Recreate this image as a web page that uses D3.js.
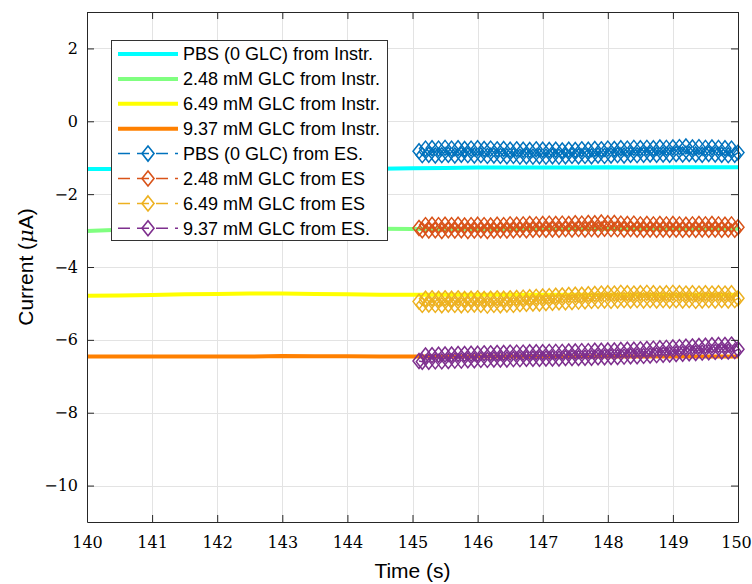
<!DOCTYPE html>
<html>
<head>
<meta charset="utf-8">
<script src="https://cdn.jsdelivr.net/npm/d3@7"></script>
<style>
  body { margin: 0; background: #fff; }
  svg { display: block; }
</style>
</head>
<body>
<svg id="chart" width="752" height="584"></svg>
<script>
// tick values
const xTicks = [140, 141, 142, 143, 144, 145, 146, 147, 148, 149, 150];
const yTicks = [-10, -8, -6, -4, -2, 0, 2];

// instrument readings (time in s, current in uA)
const instrTime = [140, 140.5, 141, 141.5, 142, 142.5, 143, 143.5, 144, 144.5, 145,
  145.5, 146, 146.5, 147, 147.5, 148, 148.5, 149, 149.5, 150];
const instrPBS = [-1.31, -1.31, -1.31, -1.30, -1.30, -1.30, -1.30, -1.30, -1.30, -1.30, -1.29,
  -1.28, -1.27, -1.27, -1.27, -1.27, -1.26, -1.27, -1.26, -1.26, -1.26];
const instr248 = [-3.01, -2.98, -2.96, -2.96, -2.95, -2.95, -2.95, -2.95, -2.95, -2.95, -2.96,
  -2.96, -2.96, -2.96, -2.96, -2.95, -2.96, -2.96, -2.95, -2.95, -2.95];
const instr649 = [-4.79, -4.78, -4.77, -4.75, -4.74, -4.73, -4.73, -4.74, -4.75, -4.76, -4.76,
  -4.76, -4.76, -4.76, -4.76, -4.76, -4.76, -4.76, -4.76, -4.76, -4.76];
const instr937 = [-6.46, -6.46, -6.46, -6.46, -6.46, -6.46, -6.44, -6.45, -6.45, -6.46, -6.46,
  -6.46, -6.46, -6.46, -6.46, -6.46, -6.45, -6.46, -6.46, -6.46, -6.46];

// electrochemical sensor readings, every 0.05 s
const esTime = [
  145.10, 145.15, 145.20, 145.25, 145.30, 145.35, 145.40, 145.45, 145.50, 145.55,
  145.60, 145.65, 145.70, 145.75, 145.80, 145.85, 145.90, 145.95, 146.00, 146.05,
  146.10, 146.15, 146.20, 146.25, 146.30, 146.35, 146.40, 146.45, 146.50, 146.55,
  146.60, 146.65, 146.70, 146.75, 146.80, 146.85, 146.90, 146.95, 147.00, 147.05,
  147.10, 147.15, 147.20, 147.25, 147.30, 147.35, 147.40, 147.45, 147.50, 147.55,
  147.60, 147.65, 147.70, 147.75, 147.80, 147.85, 147.90, 147.95, 148.00, 148.05,
  148.10, 148.15, 148.20, 148.25, 148.30, 148.35, 148.40, 148.45, 148.50, 148.55,
  148.60, 148.65, 148.70, 148.75, 148.80, 148.85, 148.90, 148.95, 149.00, 149.05,
  149.10, 149.15, 149.20, 149.25, 149.30, 149.35, 149.40, 149.45, 149.50, 149.55,
  149.60, 149.65, 149.70, 149.75, 149.80, 149.85, 149.90, 149.95, 150.00];
const esPBS = [
  -0.82, -0.93, -0.75, -0.92, -0.74, -0.94, -0.75, -0.93, -0.73, -0.92,
  -0.75, -0.94, -0.74, -0.92, -0.76, -0.93, -0.75, -0.94, -0.74, -0.93,
  -0.76, -0.95, -0.75, -0.94, -0.77, -0.95, -0.76, -0.96, -0.78, -0.95,
  -0.77, -0.97, -0.78, -0.96, -0.79, -0.97, -0.77, -0.96, -0.78, -0.97,
  -0.79, -0.96, -0.78, -0.97, -0.80, -0.96, -0.78, -0.95, -0.79, -0.96,
  -0.77, -0.95, -0.78, -0.96, -0.76, -0.94, -0.77, -0.95, -0.75, -0.94,
  -0.76, -0.93, -0.74, -0.94, -0.75, -0.92, -0.73, -0.93, -0.74, -0.92,
  -0.73, -0.91, -0.74, -0.92, -0.72, -0.91, -0.73, -0.92, -0.72, -0.90,
  -0.71, -0.91, -0.69, -0.90, -0.72, -0.91, -0.71, -0.92, -0.73, -0.90,
  -0.72, -0.91, -0.73, -0.92, -0.74, -0.93, -0.75, -0.92, -0.86];
const es248 = [
  -2.93, -2.99, -2.85, -3.00, -2.84, -2.99, -2.85, -3.01, -2.84, -2.99,
  -2.85, -3.00, -2.84, -2.99, -2.86, -3.01, -2.85, -3.00, -2.84, -2.99,
  -2.85, -3.01, -2.86, -3.00, -2.84, -2.99, -2.85, -3.00, -2.83, -2.99,
  -2.84, -2.98, -2.83, -2.99, -2.82, -2.98, -2.83, -2.97, -2.82, -2.98,
  -2.81, -2.97, -2.82, -2.98, -2.81, -2.96, -2.82, -2.97, -2.80, -2.96,
  -2.81, -2.97, -2.79, -2.96, -2.80, -2.97, -2.78, -2.95, -2.80, -2.96,
  -2.79, -2.96, -2.81, -2.97, -2.82, -2.96, -2.81, -2.97, -2.83, -2.98,
  -2.82, -2.97, -2.83, -2.98, -2.82, -2.97, -2.83, -2.98, -2.82, -2.97,
  -2.83, -2.98, -2.84, -2.97, -2.83, -2.98, -2.82, -2.97, -2.83, -2.98,
  -2.82, -2.97, -2.83, -2.98, -2.84, -2.97, -2.83, -2.98, -2.91];
const es649 = [
  -4.95, -5.04, -4.87, -5.03, -4.86, -5.04, -4.87, -5.05, -4.86, -5.03,
  -4.87, -5.04, -4.86, -5.05, -4.88, -5.04, -4.87, -5.03, -4.86, -5.04,
  -4.88, -5.06, -4.87, -5.04, -4.86, -5.05, -4.87, -5.03, -4.86, -5.04,
  -4.85, -5.02, -4.84, -5.01, -4.83, -5.00, -4.82, -5.00, -4.81, -4.99,
  -4.80, -4.98, -4.79, -4.97, -4.78, -4.97, -4.77, -4.96, -4.76, -4.95,
  -4.76, -4.94, -4.75, -4.93, -4.74, -4.93, -4.73, -4.92, -4.72, -4.93,
  -4.73, -4.92, -4.71, -4.91, -4.72, -4.92, -4.73, -4.91, -4.72, -4.92,
  -4.71, -4.91, -4.72, -4.92, -4.73, -4.91, -4.72, -4.92, -4.71, -4.91,
  -4.72, -4.92, -4.73, -4.91, -4.72, -4.93, -4.73, -4.92, -4.72, -4.91,
  -4.73, -4.92, -4.72, -4.91, -4.73, -4.92, -4.72, -4.91, -4.86];
const es937 = [
  -6.58, -6.60, -6.43, -6.60, -6.42, -6.59, -6.41, -6.59, -6.40, -6.58,
  -6.40, -6.57, -6.39, -6.57, -6.39, -6.56, -6.38, -6.56, -6.38, -6.55,
  -6.37, -6.55, -6.37, -6.54, -6.36, -6.54, -6.36, -6.54, -6.35, -6.53,
  -6.35, -6.53, -6.35, -6.52, -6.34, -6.52, -6.34, -6.52, -6.34, -6.51,
  -6.33, -6.51, -6.33, -6.51, -6.33, -6.50, -6.32, -6.50, -6.32, -6.50,
  -6.31, -6.49, -6.31, -6.49, -6.30, -6.48, -6.30, -6.48, -6.29, -6.47,
  -6.29, -6.47, -6.28, -6.46, -6.27, -6.45, -6.27, -6.45, -6.26, -6.44,
  -6.25, -6.43, -6.24, -6.42, -6.23, -6.41, -6.22, -6.40, -6.21, -6.39,
  -6.20, -6.38, -6.19, -6.37, -6.18, -6.36, -6.17, -6.35, -6.16, -6.34,
  -6.15, -6.33, -6.14, -6.32, -6.14, -6.32, -6.13, -6.31, -6.26];

const instrNames = ['PBS (0 GLC) from Instr.', '2.48 mM GLC from Instr.', '6.49 mM GLC from Instr.', '9.37 mM GLC from Instr.'];
const esNames = ['PBS (0 GLC) from ES.', '2.48 mM GLC from ES', '6.49 mM GLC from ES', '9.37 mM GLC from ES.'];
const instrColors = ['#00ffff', '#80ff80', '#ffff00', '#ff8000'];
const esColors = ['#0072bd', '#d95319', '#edb120', '#7e2f8e'];

const instrSeries = [instrPBS, instr248, instr649, instr937].map((vals, i) => ({
  name: instrNames[i], color: instrColors[i],
  points: instrTime.map((t, j) => ({ t: t, v: vals[j] }))
}));
const esSeries = [esPBS, es248, es649, es937].map((vals, i) => ({
  name: esNames[i], color: esColors[i],
  points: esTime.map((t, j) => ({ t: t, v: vals[j] }))
}));

const svg = d3.select('#chart');
const margin = { top: 12, right: 14, bottom: 62, left: 87 };
const width = 752 - margin.left - margin.right,
  height = 584 - margin.top - margin.bottom;

svg.append('rect').attr('width', 752).attr('height', 584).attr('fill', '#fff');

const x = d3.scaleLinear().domain([140, 150]).range([margin.left, margin.left + width]);
const y = d3.scaleLinear().domain([-11, 3]).range([margin.top + height, margin.top]);

// grid
const grid = svg.append('g').attr('stroke', '#e3e3e3').attr('stroke-width', 1);
grid.selectAll('.gx').data(xTicks).enter().append('line')
  .attr('x1', d => Math.round(x(d)) + 0.5).attr('x2', d => Math.round(x(d)) + 0.5)
  .attr('y1', y(3)).attr('y2', y(-11));
grid.selectAll('.gy').data(yTicks).enter().append('line')
  .attr('y1', d => Math.round(y(d)) + 0.5).attr('y2', d => Math.round(y(d)) + 0.5)
  .attr('x1', x(140)).attr('x2', x(150));

const line = d3.line().x(d => x(d.t)).y(d => y(d.v));

// instrument lines
svg.append('g').selectAll('path').data(instrSeries).enter().append('path')
  .attr('d', d => line(d.points))
  .attr('fill', 'none')
  .attr('stroke', d => d.color)
  .attr('stroke-width', 4);

function diamond(cx, cy) {
  const hw = 6, hh = 7.5;
  return `M${cx},${cy - hh}L${cx + hw},${cy}L${cx},${cy + hh}L${cx - hw},${cy}Z`;
}

// ES series: dashed line + diamond markers
const esG = svg.append('g').selectAll('g').data(esSeries).enter().append('g');
esG.append('path')
  .attr('d', d => line(d.points))
  .attr('fill', 'none')
  .attr('stroke', d => d.color)
  .attr('stroke-width', 1.5)
  .attr('stroke-dasharray', '12,7');
esG.each(function(s) {
  d3.select(this).selectAll('.mk').data(s.points).enter().append('path')
    .attr('d', p => diamond(x(p.t), y(p.v)))
    .attr('fill', 'none')
    .attr('stroke', s.color)
    .attr('stroke-width', 1.5);
});

// axes
const axisColor = '#262626';
const tickFont = '"DejaVu Serif", "Liberation Serif", serif';
function styleAxis(g) {
  g.attr('font-family', tickFont).attr('font-size', 16);
  g.select('.domain').attr('stroke', axisColor);
  g.selectAll('.tick line').attr('stroke', axisColor);
  g.selectAll('.tick text').attr('fill', '#000')
    .style('font-family', tickFont).style('font-size', '16px');
}
const xAxisG = svg.append('g')
  .attr('transform', `translate(0,${y(-11)})`)
  .call(d3.axisBottom(x).tickValues(xTicks).tickSize(-7).tickSizeOuter(0).tickPadding(15))
  .call(styleAxis);
// keep the last label inside the page
xAxisG.selectAll('.tick text').filter(d => d === 150).attr('dx', -2);
svg.append('g')
  .attr('transform', `translate(0,${y(3)})`)
  .call(d3.axisTop(x).tickValues(xTicks).tickSize(-7).tickSizeOuter(0).tickFormat(''))
  .call(styleAxis);
svg.append('g')
  .attr('transform', `translate(${x(140)},0)`)
  .call(d3.axisLeft(y).tickValues(yTicks).tickSize(-7).tickSizeOuter(0).tickPadding(9))
  .call(styleAxis);
svg.append('g')
  .attr('transform', `translate(${x(150)},0)`)
  .call(d3.axisRight(y).tickValues(yTicks).tickSize(-7).tickSizeOuter(0).tickFormat(''))
  .call(styleAxis);

// axis labels
svg.append('text')
  .attr('x', (x(140) + x(150)) / 2).attr('y', 578)
  .attr('text-anchor', 'middle')
  .attr('font-family', '"Liberation Sans", Arial, sans-serif')
  .attr('font-size', 21)
  .text('Time (s)');
const yl = svg.append('text')
  .attr('transform', `translate(33,${(y(3) + y(-11)) / 2}) rotate(-90)`)
  .attr('text-anchor', 'middle')
  .attr('font-family', '"Liberation Sans", Arial, sans-serif')
  .attr('font-size', 21);
yl.append('tspan').text('Current (');
yl.append('tspan').attr('font-family', '"DejaVu Serif", serif').attr('font-style', 'italic').text('\u03bc');
yl.append('tspan').text('A)');

// legend
const legend = svg.append('g');
legend.append('rect')
  .attr('x', 111.5).attr('y', 40.5).attr('width', 276).attr('height', 200)
  .attr('fill', '#fff').attr('stroke', '#333').attr('stroke-width', 1);
const rows = instrSeries.map(s => ({ s: s, es: false })).concat(esSeries.map(s => ({ s: s, es: true })));
const rowH = 24.9;
rows.forEach((r, i) => {
  const cy = 54 + i * rowH;
  const item = legend.append('g');
  if (!r.es) {
    item.append('line').attr('x1', 118).attr('x2', 178).attr('y1', cy).attr('y2', cy)
      .attr('stroke', r.s.color).attr('stroke-width', 4);
  } else {
    item.append('line').attr('x1', 118).attr('x2', 178).attr('y1', cy).attr('y2', cy)
      .attr('stroke', r.s.color).attr('stroke-width', 1.5).attr('stroke-dasharray', '12,7');
    item.append('path').attr('d', diamond(148, cy))
      .attr('fill', 'none').attr('stroke', r.s.color).attr('stroke-width', 1.6);
  }
  item.append('text')
    .attr('x', 183).attr('y', cy + 6.3)
    .attr('font-family', '"Liberation Sans", Arial, sans-serif')
    .attr('font-size', 18)
    .attr('fill', '#000')
    .text(r.s.name);
});
</script>
</body>
</html>
